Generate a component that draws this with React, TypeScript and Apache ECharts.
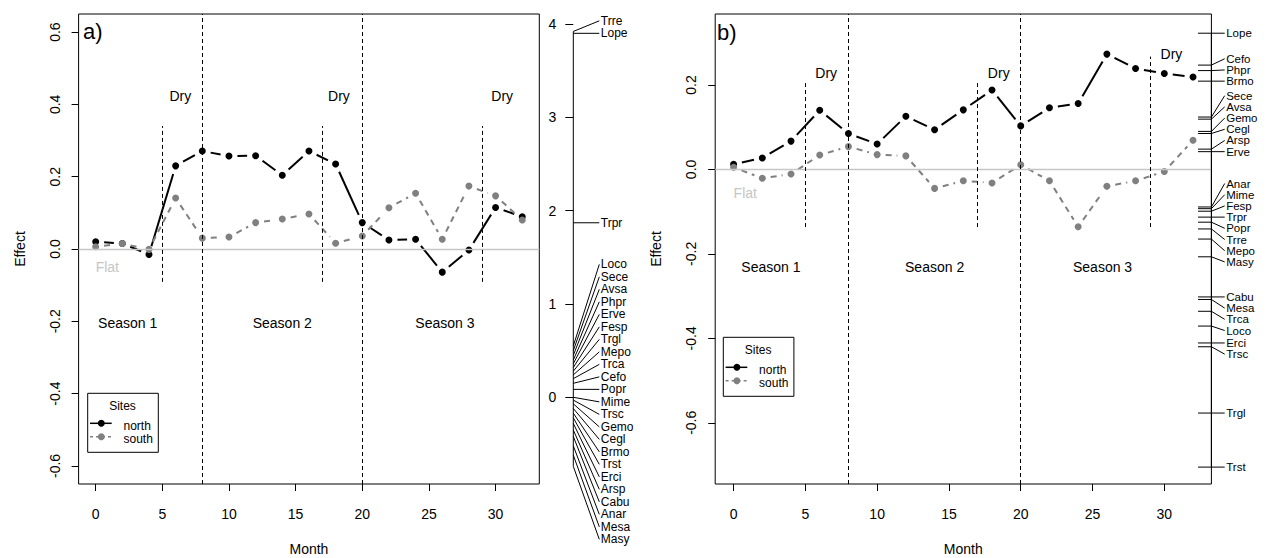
import React, { useEffect, useRef } from 'react';
import * as echarts from 'echarts';

const FONT = '"Liberation Sans", Arial, Helvetica, sans-serif';

// Sampling months and estimated effects per site
const MONTHS = [0, 2, 4, 6, 8, 10, 12, 14, 16, 18, 20, 22, 24, 26, 28, 30, 32];
const NORTH_A = [0.020, 0.015, -0.015, 0.230, 0.271, 0.257, 0.258, 0.204, 0.271, 0.235, 0.073, 0.025, 0.027, -0.064, -0.003, 0.115, 0.089];
const SOUTH_A = [0.006, 0.015, -0.001, 0.141, 0.030, 0.033, 0.073, 0.083, 0.097, 0.016, 0.036, 0.114, 0.154, 0.027, 0.174, 0.147, 0.080];
const NORTH_B = [0.012, 0.027, 0.067, 0.140, 0.085, 0.060, 0.126, 0.094, 0.141, 0.188, 0.103, 0.146, 0.156, 0.273, 0.239, 0.227, 0.219];
const SOUTH_B = [0.005, -0.021, -0.011, 0.034, 0.054, 0.035, 0.032, -0.045, -0.027, -0.032, 0.011, -0.027, -0.136, -0.040, -0.027, -0.005, 0.069];

// Species scores (panel a on its own scale, panel b on the effect scale)
const SPECIES_A = ['Trre', 'Lope', 'Trpr', 'Loco', 'Sece', 'Avsa', 'Phpr', 'Erve', 'Fesp', 'Trgl', 'Mepo', 'Trca', 'Cefo', 'Popr', 'Mime', 'Trsc', 'Gemo', 'Cegl', 'Brmo', 'Trst', 'Erci', 'Arsp', 'Cabu', 'Anar', 'Mesa', 'Masy'];
const SCORES_A = [3.92, 3.90, 1.87, 0.55, 0.50, 0.45, 0.40, 0.36, 0.32, 0.28, 0.24, 0.20, 0.15, 0.085, 0.0, -0.03, -0.07, -0.12, -0.17, -0.22, -0.28, -0.35, -0.42, -0.52, -0.62, -0.74];
const SPECIES_B = ['Lope', 'Cefo', 'Phpr', 'Brmo', 'Sece', 'Avsa', 'Gemo', 'Cegl', 'Arsp', 'Erve', 'Anar', 'Mime', 'Fesp', 'Trpr', 'Popr', 'Trre', 'Mepo', 'Masy', 'Cabu', 'Mesa', 'Trca', 'Loco', 'Erci', 'Trsc', 'Trgl', 'Trst'];
const SCORES_B = [0.3225, 0.247, 0.234, 0.209, 0.124, 0.119, 0.090, 0.085, 0.048, 0.042, -0.089, -0.093, -0.099, -0.113, -0.125, -0.141, -0.165, -0.207, -0.302, -0.308, -0.336, -0.371, -0.411, -0.420, -0.577, -0.705];

// Axes
const X_MIN = -1.28;
const X_MAX = 33.28;
const X_TICKS = [0, 5, 10, 15, 20, 25, 30];
const Y_MIN_A = -0.65;
const Y_MAX_A = 0.65;
const Y_TICKS_A = [-0.6, -0.4, -0.2, 0, 0.2, 0.4, 0.6];
const Y_MIN_B = -0.745;
const Y_MAX_B = 0.368;
const Y_TICKS_B = [-0.6, -0.4, -0.2, 0, 0.2];
const SCORE_MIN_A = -0.929;
const SCORE_MAX_A = 4.107;
const SCORE_TICKS_A = [0, 1, 2, 3, 4];

// Season boundaries and dry-period markers
const SEASON_BREAKS = [8, 20];
const DRY_MONTHS = [5, 17, 29];
const DRY_LOW_A = [-0.091, -0.091, -0.091];
const DRY_HIGH_A = [0.34, 0.34, 0.34];
const DRY_LOW_B = [-0.1365, -0.1365, -0.1365];
const DRY_HIGH_B = [0.21, 0.21, 0.267];

// Annotation texts
const DRY_LABEL_X_A = [6.35, 18.25, 30.5];
const DRY_LABEL_Y_A = [0.424, 0.424, 0.424];
const DRY_LABEL_X_B = [6.45, 18.47, 30.5];
const DRY_LABEL_Y_B = [0.2286, 0.2286, 0.2735];
const SEASON_LABELS = ['Season 1', 'Season 2', 'Season 3'];
const SEASON_X_A = [2.4, 14, 26.2];
const SEASON_Y_A = [-0.2055, -0.2055, -0.2055];
const SEASON_X_B = [2.6, 14, 25.7];
const SEASON_Y_B = [-0.231, -0.231, -0.231];
const FLAT_POS_A = [0, -0.049];
const FLAT_POS_B = [0, -0.057];

const SITES = ['north', 'south'];
const SITE_COLORS = ['#000000', '#808080'];
const SITE_DASH: (number[] | null)[] = [null, [6, 5]];
const FLAT_COLOR = '#c6c6c6';

const GRID_A = { left: 78.6, top: 14, width: 460.7, height: 470 };
const GRID_B = { left: 715.2, top: 14, width: 496.2, height: 470 };
const STACK_OFFSET_A = 34;
const POINT_GAP = 8.5;
const POINT_SIZE = 7;

const txt = (text: string, size: number, color: string, align: string, vAlign = 'middle') => ({
  text,
  fill: color,
  font: `${size}px ${FONT}`,
  align,
  verticalAlign: vAlign,
  textAlign: align,
  textVerticalAlign: vAlign,
});

// Label placement along a stack: the median item stays put, the others are pushed apart.
function stackLabels(pix: number[], ht: number): number[] {
  const n = pix.length;
  const order = pix.map((_, i) => i).sort((a, b) => pix[b] - pix[a]);
  const pos = pix.slice();
  const mid = Math.floor((n + 1) / 2) - 1;
  for (let k = mid + 1; k < n; k++) {
    const cur = order[k];
    const prev = order[k - 1];
    if (pos[prev] - pos[cur] < ht) pos[cur] = pos[prev] - ht;
  }
  for (let k = mid - 1; k >= 0; k--) {
    const cur = order[k];
    const next = order[k + 1];
    if (pos[cur] - pos[next] < ht) pos[cur] = pos[next] + ht;
  }
  return pos;
}

function segmentSeries(xIdx: number, yIdx: number, values: number[], color: string, dash: number[] | null) {
  return {
    type: 'custom',
    xAxisIndex: xIdx,
    yAxisIndex: yIdx,
    silent: true,
    z: 3,
    data: MONTHS.slice(0, -1).map((m, i) => [m, values[i], MONTHS[i + 1], values[i + 1]]),
    renderItem: (_params: any, api: any) => {
      const p = api.coord([api.value(0), api.value(1)]);
      const q = api.coord([api.value(2), api.value(3)]);
      const dx = q[0] - p[0];
      const dy = q[1] - p[1];
      const len = Math.hypot(dx, dy);
      if (len <= 2 * POINT_GAP) return null;
      const ux = dx / len;
      const uy = dy / len;
      return {
        type: 'line',
        shape: { x1: p[0] + ux * POINT_GAP, y1: p[1] + uy * POINT_GAP, x2: q[0] - ux * POINT_GAP, y2: q[1] - uy * POINT_GAP },
        style: { stroke: color, lineWidth: 2, lineDash: dash || undefined, fill: null },
      };
    },
  };
}

function pointSeries(xIdx: number, yIdx: number, values: number[], color: string, name: string) {
  return {
    type: 'scatter',
    name,
    xAxisIndex: xIdx,
    yAxisIndex: yIdx,
    silent: true,
    z: 4,
    symbol: 'circle',
    symbolSize: POINT_SIZE,
    itemStyle: { color, opacity: 1 },
    data: MONTHS.map((m, i) => [m, values[i]]),
  };
}

function textSeries(xIdx: number, yIdx: number, xs: number[], ys: number[], labels: string[], color: string, size: number, align: string) {
  return {
    type: 'custom',
    xAxisIndex: xIdx,
    yAxisIndex: yIdx,
    silent: true,
    z: 5,
    data: xs.map((x, i) => [x, ys[i]]),
    renderItem: (params: any, api: any) => {
      const p = api.coord([api.value(0), api.value(1)]);
      return { type: 'text', x: p[0], y: p[1], style: txt(labels[params.dataIndex], size, color, align) };
    },
  };
}

function refLineSeries(xIdx: number, yIdx: number, yMin: number, yMax: number, dryLow: number[], dryHigh: number[]) {
  const dashed = { color: '#000', type: [4, 3], width: 1 };
  return {
    type: 'line',
    xAxisIndex: xIdx,
    yAxisIndex: yIdx,
    data: [],
    silent: true,
    z: 1,
    markLine: {
      silent: true,
      animation: false,
      symbol: ['none', 'none'],
      label: { show: false },
      lineStyle: dashed,
      data: [
        [{ coord: [X_MIN, 0], lineStyle: { color: FLAT_COLOR, type: 'solid', width: 1.3 } }, { coord: [X_MAX, 0] }],
        ...SEASON_BREAKS.map((m) => [{ coord: [m, yMin], lineStyle: dashed }, { coord: [m, yMax] }]),
        ...DRY_MONTHS.map((m, i) => [{ coord: [m, dryLow[i]], lineStyle: dashed }, { coord: [m, dryHigh[i]] }]),
      ],
    },
  };
}

function stackSeries(
  xIdx: number,
  yIdx: number,
  scores: number[],
  labels: string[],
  opts: { offset: number; hoff: number; ht: number; size: number; rug: number },
) {
  return {
    type: 'custom',
    xAxisIndex: xIdx,
    yAxisIndex: yIdx,
    silent: true,
    clip: false,
    z: 5,
    data: scores.map((s) => [X_MAX, s]),
    renderItem: (params: any, api: any) => {
      const pix = scores.map((s) => api.coord([X_MAX, s])[1]);
      const pos = stackLabels(pix, opts.ht);
      const ax = api.coord([X_MAX, 0])[0] + opts.offset;
      const i = params.dataIndex;
      const children: any[] = [
        { type: 'line', shape: { x1: ax, y1: pix[i], x2: ax + opts.hoff, y2: pos[i] }, style: { stroke: '#000', lineWidth: 1 } },
        { type: 'text', x: ax + opts.hoff + 1.5, y: pos[i], style: txt(labels[i], opts.size, '#000', 'left') },
      ];
      if (opts.rug > 0) {
        children.push({ type: 'line', shape: { x1: ax - opts.rug, y1: pix[i], x2: ax, y2: pix[i] }, style: { stroke: '#000', lineWidth: 1 } });
      }
      if (i === 0) {
        children.push({
          type: 'line',
          shape: { x1: ax, y1: Math.min(...pix), x2: ax, y2: Math.max(...pix) },
          style: { stroke: '#000', lineWidth: 1 },
        });
      }
      return { type: 'group', children };
    },
  };
}

function legendBox(x: number, y: number) {
  const rows = [30, 43.5];
  return {
    type: 'group',
    x,
    y,
    silent: true,
    children: [
      { type: 'rect', shape: { x: 0, y: 0, width: 70.6, height: 59 }, style: { fill: '#fff', stroke: '#000', lineWidth: 1 } },
      { type: 'text', x: 34.8, y: 12.7, style: txt('Sites', 12, '#000', 'center') },
      ...SITES.flatMap((site, i) => [
        {
          type: 'line',
          shape: { x1: 2.3, y1: rows[i], x2: 24, y2: rows[i] },
          style: { stroke: SITE_COLORS[i], lineWidth: 1.5, lineDash: SITE_DASH[i] ? [3, 3] : undefined },
        },
        { type: 'circle', shape: { cx: 13.6, cy: rows[i], r: 3.5 }, style: { fill: SITE_COLORS[i] } },
        { type: 'text', x: 35.8, y: rows[i] + 2.5, style: txt(site, 12, '#000', 'left') },
      ]),
    ],
  };
}

function xAxis(gridIndex: number) {
  return {
    type: 'value',
    gridIndex,
    min: X_MIN,
    max: X_MAX,
    axisLine: { show: false, onZero: false },
    splitLine: { show: false },
    axisTick: { show: true, customValues: X_TICKS, length: 7, lineStyle: { color: '#000', width: 1 } },
    axisLabel: { customValues: X_TICKS, fontSize: 14, color: '#000', margin: 23, fontFamily: FONT },
    name: 'Month',
    nameLocation: 'middle',
    nameGap: 58,
    nameTextStyle: { fontSize: 14, color: '#000', fontFamily: FONT },
  };
}

function effectAxis(gridIndex: number, min: number, max: number, ticks: number[]) {
  return {
    type: 'value',
    gridIndex,
    position: 'left',
    min,
    max,
    axisLine: { show: false, onZero: false },
    splitLine: { show: false },
    axisTick: { show: true, customValues: ticks, length: 7, lineStyle: { color: '#000', width: 1 } },
    axisLabel: {
      customValues: ticks,
      rotate: 90,
      fontSize: 14,
      color: '#000',
      margin: 17,
      fontFamily: FONT,
      formatter: (v: number) => v.toFixed(1),
    },
    name: 'Effect',
    nameLocation: 'middle',
    nameRotate: 90,
    nameGap: 52,
    nameTextStyle: { fontSize: 14, color: '#000', fontFamily: FONT },
  };
}

function buildOption() {
  const gridStyle = { show: true, borderColor: '#000', borderWidth: 1, backgroundColor: 'transparent', containLabel: false, outerBoundsMode: 'none' };
  return {
    animation: false,
    backgroundColor: '#fff',
    textStyle: { fontFamily: FONT },
    grid: [
      { ...GRID_A, ...gridStyle },
      { ...GRID_B, ...gridStyle },
    ],
    xAxis: [xAxis(0), xAxis(1)],
    yAxis: [
      effectAxis(0, Y_MIN_A, Y_MAX_A, Y_TICKS_A),
      {
        type: 'value',
        gridIndex: 0,
        position: 'right',
        offset: STACK_OFFSET_A,
        min: SCORE_MIN_A,
        max: SCORE_MAX_A,
        axisLine: { show: false, onZero: false },
        splitLine: { show: false },
        axisTick: { show: true, inside: true, customValues: SCORE_TICKS_A, length: 8, lineStyle: { color: '#000', width: 1 } },
        axisLabel: { inside: true, customValues: SCORE_TICKS_A, fontSize: 14, color: '#000', margin: 17, fontFamily: FONT },
      },
      effectAxis(1, Y_MIN_B, Y_MAX_B, Y_TICKS_B),
    ],
    graphic: [
      { type: 'text', x: 83, y: 31, style: txt('a)', 22, '#000', 'left') },
      { type: 'text', x: 717, y: 32, style: txt('b)', 22, '#000', 'left') },
      legendBox(87.7, 393.3),
      legendBox(723.3, 337.3),
    ],
    series: [
      refLineSeries(0, 0, Y_MIN_A, Y_MAX_A, DRY_LOW_A, DRY_HIGH_A),
      refLineSeries(1, 2, Y_MIN_B, Y_MAX_B, DRY_LOW_B, DRY_HIGH_B),
      segmentSeries(0, 0, NORTH_A, SITE_COLORS[0], SITE_DASH[0]),
      segmentSeries(0, 0, SOUTH_A, SITE_COLORS[1], SITE_DASH[1]),
      pointSeries(0, 0, NORTH_A, SITE_COLORS[0], SITES[0]),
      pointSeries(0, 0, SOUTH_A, SITE_COLORS[1], SITES[1]),
      segmentSeries(1, 2, NORTH_B, SITE_COLORS[0], SITE_DASH[0]),
      segmentSeries(1, 2, SOUTH_B, SITE_COLORS[1], SITE_DASH[1]),
      pointSeries(1, 2, NORTH_B, SITE_COLORS[0], SITES[0]),
      pointSeries(1, 2, SOUTH_B, SITE_COLORS[1], SITES[1]),
      textSeries(0, 0, DRY_LABEL_X_A, DRY_LABEL_Y_A, ['Dry', 'Dry', 'Dry'], '#000', 14, 'center'),
      textSeries(0, 0, SEASON_X_A, SEASON_Y_A, SEASON_LABELS, '#000', 14, 'center'),
      textSeries(0, 0, [FLAT_POS_A[0]], [FLAT_POS_A[1]], ['Flat'], FLAT_COLOR, 14, 'left'),
      textSeries(1, 2, DRY_LABEL_X_B, DRY_LABEL_Y_B, ['Dry', 'Dry', 'Dry'], '#000', 14, 'center'),
      textSeries(1, 2, SEASON_X_B, SEASON_Y_B, SEASON_LABELS, '#000', 14, 'center'),
      textSeries(1, 2, [FLAT_POS_B[0]], [FLAT_POS_B[1]], ['Flat'], FLAT_COLOR, 14, 'left'),
      stackSeries(0, 1, SCORES_A, SPECIES_A, { offset: STACK_OFFSET_A, hoff: 26, ht: 12.5, size: 12, rug: 0 }),
      stackSeries(1, 2, SCORES_B, SPECIES_B, { offset: 0, hoff: 13.3, ht: 11.2, size: 11.5, rug: 13.4 }),
    ],
  };
}

export default function App() {
  const ref = useRef<HTMLDivElement>(null);
  useEffect(() => {
    if (!ref.current) return;
    const chart = echarts.init(ref.current, null, { renderer: 'svg' });
    chart.setOption(buildOption() as any);
    return () => chart.dispose();
  }, []);
  return (
    <div
      ref={ref}
      style={{ position: 'absolute', left: 0, top: 0, width: 1269, height: 558, background: '#fff' }}
    />
  );
}
